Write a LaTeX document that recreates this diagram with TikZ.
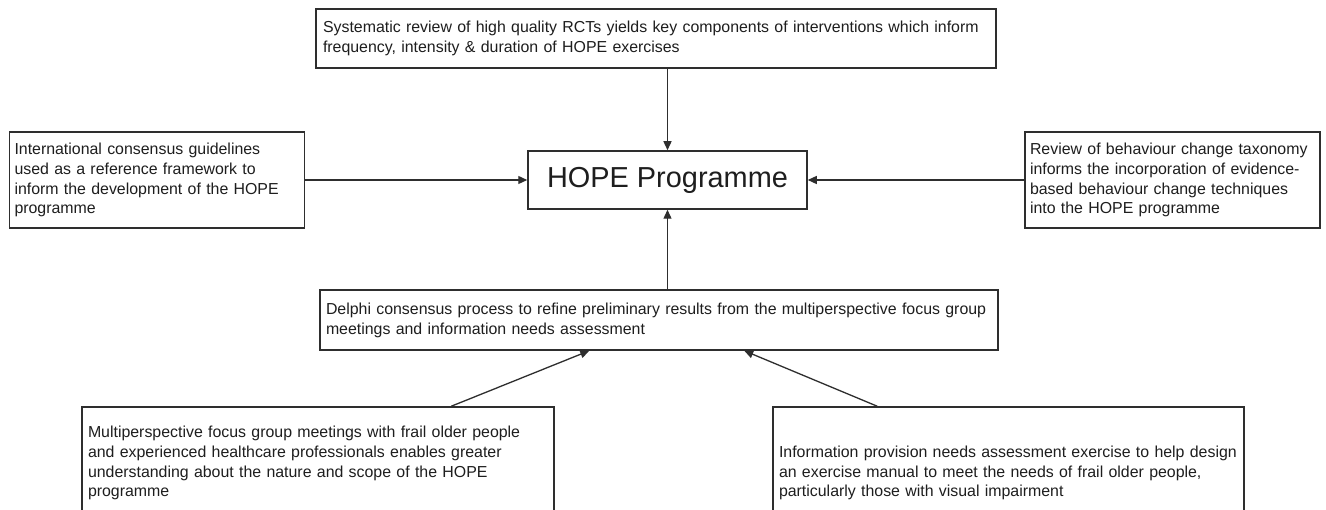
\documentclass[tikz,border=0pt]{standalone}
\usepackage{fontspec}
\setmainfont{Liberation Sans}
\usetikzlibrary{arrows.meta}
\definecolor{linec}{HTML}{2E2E2E}
\definecolor{txtc}{HTML}{1E1E1E}
\tikzset{
  box/.style={draw=linec, line width=1.5pt, fill=white, text=txtc, align=left,
    inner sep=0pt, font=\fontsize{15.9}{19.8}\selectfont},
  arr/.style={draw=linec, line width=1.3pt, -{Triangle[length=9pt,width=8pt]}},
}
\begin{document}
\begin{tikzpicture}[x=1pt,y=-1pt]
\useasboundingbox (0,0) rectangle (1326,510);
\clip (0,0) rectangle (1326,510);
\fill[white] (0,0) rectangle (1326,510);
\node[box, minimum width=680pt, minimum height=59pt, text width=666pt] (top) at (656,38.5)
  {Systematic review of high quality RCTs yields key components of interventions which inform\\frequency, intensity \& duration of HOPE exercises};
\node[box, minimum width=279pt, minimum height=58pt, align=center, font=\fontsize{28.9}{32}\selectfont] (hope) at (667.5,180) {HOPE Programme};
\node[box, minimum width=295pt, minimum height=96pt, text width=285pt] (left) at (157,180)
  {International consensus guidelines\\used as a reference framework to\\inform the development of the HOPE\\programme};
\node[box, minimum width=295pt, minimum height=96pt, text width=285pt] (right) at (1172.5,180)
  {Review of behaviour change taxonomy\\informs the incorporation of evidence-\\based behaviour change techniques\\into the HOPE programme};
\node[box, minimum width=678pt, minimum height=60pt, text width=666pt] (delphi) at (659,320)
  {Delphi consensus process to refine preliminary results from the multiperspective focus group\\meetings and information needs assessment};
\node[box, minimum width=472pt, minimum height=112pt, text width=460pt] (bl) at (318,463)
  {Multiperspective focus group meetings with frail older people\\and experienced healthcare professionals enables greater\\understanding about the nature and scope of the HOPE\\programme};
\node[box, minimum width=471pt, minimum height=132pt, text width=459pt] (br) at (1008.5,473)
  {Information provision needs assessment exercise to help design\\an exercise manual to meet the needs of frail older people,\\particularly those with visual impairment};
\coordinate (bla) at ([xshift=370pt]bl.north west);
\coordinate (bra) at ([xshift=105pt]br.north west);
\coordinate (dla) at ([xshift=270pt]delphi.south west);
\coordinate (dra) at ([xshift=425pt]delphi.south west);
\draw[arr] (top.south -| hope.north) -- (hope.north);
\draw[arr] (delphi.north -| hope.south) -- (hope.south);
\draw[arr] (left.east) -- (hope.west);
\draw[arr] (right.west) -- (hope.east);
\draw[arr] (bla) -- (dla);
\draw[arr] (bra) -- (dra);
\end{tikzpicture}
\end{document}
